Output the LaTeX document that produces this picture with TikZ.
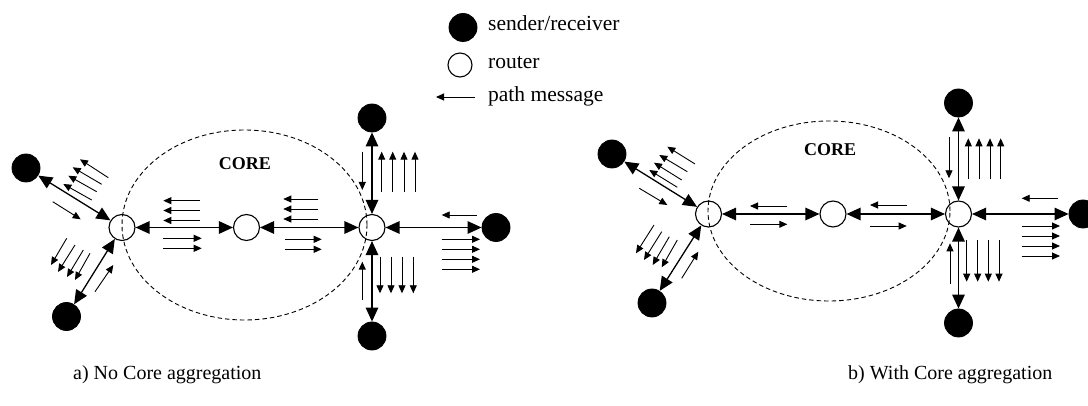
\documentclass[tikz,border=0pt]{standalone}
\usepackage{fontspec}
\setmainfont{Liberation Serif}
\usetikzlibrary{arrows.meta}
\begin{document}
\begin{tikzpicture}[x=1pt,y=-1pt,
  sender/.style={circle,fill=black,draw=black,line width=0.8pt,minimum size=28pt,inner sep=0pt},
  router/.style={circle,draw=black,line width=1.1pt,minimum size=26pt,inner sep=0pt},
  link/.style={line width=1.3pt,{Triangle[length=14pt,width=12.5pt]}-{Triangle[length=14pt,width=12.5pt]}},
  pmsg/.style={line width=0.9pt,-{Triangle[length=8pt,width=7pt]}},
  core/.style={draw=black,line width=0.9pt,dash pattern=on 4.5pt off 3pt},
  txt/.style={font=\fontsize{20}{24}\selectfont,inner sep=0pt,anchor=base west},
  legtxt/.style={txt,font=\fontsize{21.5}{25}\selectfont},
  corelabel/.style={font=\fontsize{18}{21}\selectfont\bfseries,inner sep=0pt}
]
\clip (0,0) rectangle (1088,406);

% ---------- legend ----------
\node[sender] (legS) at (463,27.5) {};
\node[legtxt] (legSt) at (488,31) {sender/receiver};
\node[router,minimum size=24pt] (legR) at (460,65) {};
\node[legtxt] (legRt) at (488,69) {router};
\coordinate (legA0) at (475,97);
\coordinate (legA1) at (436,97);
\draw[pmsg] (legA0) -- (legA1);
\node[legtxt] (legPt) at (488,102) {path message};

% ---------- a) no core aggregation ----------
\draw[core] (244.5,225) ellipse [x radius=122.5pt, y radius=95pt];
\node[corelabel] (coreA) at (245,163.5) {CORE};

\node[router] (L1) at (122,227.5) {};
\node[router] (M1) at (246.5,227.5) {};
\node[router] (R1) at (372,227.5) {};
\node[sender] (S1a) at (26,168) {};
\node[sender] (S1b) at (66.5,316.5) {};
\node[sender] (T1) at (372,118) {};
\node[sender] (E1) at (496,227.5) {};
\node[sender] (B1) at (372,336) {};

\draw[link] (S1a) -- (L1);
\draw[link] (S1b) -- (L1);
\draw[link] (L1) -- (M1);
\draw[link] (M1) -- (R1);
\draw[link] (T1) -- (R1);
\draw[link] (E1) -- (R1);
\draw[link] (B1) -- (R1);

% path messages, upper-left sender
\draw[pmsg] (108.3,177.7) -- (80,159.3);
\draw[pmsg] (101.7,184.3) -- (72.7,167.3);
\draw[pmsg] (96.7,191.7) -- (68.3,175.7);
\draw[pmsg] (91.7,200) -- (63.3,184);
\draw[pmsg] (52.7,201.7) -- (80.7,219.3);
% lower-left sender
\draw[pmsg] (66.7,238.3) -- (51,265);
\draw[pmsg] (75,245) -- (58,272);
\draw[pmsg] (83.3,250) -- (67,277);
\draw[pmsg] (90,253.3) -- (75,280);
\draw[pmsg] (95,291.7) -- (113.3,265);
% core links
\foreach \y in {200.7,210.5,220.5} \draw[pmsg] (200,\y) -- (163.3,\y);
\foreach \y in {238.3,248.3} \draw[pmsg] (163.3,\y) -- (201.7,\y);
\foreach \y in {199,209,219} \draw[pmsg] (318.3,\y) -- (283.3,\y);
\foreach \y in {239.3,249.3} \draw[pmsg] (285,\y) -- (321.7,\y);
% top sender
\draw[pmsg] (362.3,151.7) -- (362.3,190);
\foreach \x in {381.7,392.7,404,415} \draw[pmsg] (\x,191.7) -- (\x,151.7);
% right sender
\draw[pmsg] (476.7,215) -- (441.7,215);
\foreach \y in {239.3,249.3,259.3,269.3} \draw[pmsg] (441.7,\y) -- (480,\y);
% bottom sender
\draw[pmsg] (362.3,300) -- (362.3,261.7);
\foreach \x in {380,391,402,413.3} \draw[pmsg] (\x,256.7) -- (\x,293.3);

\node[txt] (capA) at (73,379) {a) No Core aggregation};

% ---------- b) with core aggregation ----------
\draw[core] (829,211) ellipse [x radius=121pt, y radius=90pt];
\node[corelabel] (coreB) at (830,150) {CORE};

\node[router] (L2) at (708.5,214) {};
\node[router] (M2) at (833,214) {};
\node[router] (R2) at (958.5,214) {};
\node[sender] (S2a) at (612,154) {};
\node[sender] (S2b) at (652,303) {};
\node[sender] (T2) at (958.5,103) {};
\node[sender] (E2) at (1083,214) {};
\node[sender] (B2) at (958.5,323) {};

\draw[link] (S2a) -- (L2);
\draw[link] (S2b) -- (L2);
\draw[link] (L2) -- (M2);
\draw[link] (M2) -- (R2);
\draw[link] (T2) -- (R2);
\draw[link] (E2) -- (R2);
\draw[link] (B2) -- (R2);

% upper-left sender
\draw[pmsg] (695,164) -- (667.3,146.7);
\draw[pmsg] (687.3,171.7) -- (659.3,155);
\draw[pmsg] (681.7,180) -- (654,162.7);
\draw[pmsg] (677.3,187.3) -- (649.3,170);
\draw[pmsg] (639.3,188.3) -- (667.3,205);
% lower-left sender
\draw[pmsg] (654,225) -- (636,253.3);
\draw[pmsg] (661.7,231.7) -- (644,260);
\draw[pmsg] (669.3,236.7) -- (652.7,265);
\draw[pmsg] (677.3,240) -- (661.7,267.3);
\draw[pmsg] (681.7,278.3) -- (698.3,251.7);
% core links
\draw[pmsg] (787.3,206) -- (750,206);
\draw[pmsg] (750,224.3) -- (787.3,224.3);
\draw[pmsg] (906.7,205) -- (870,205);
\draw[pmsg] (870,226) -- (906.7,226);
% top sender
\draw[pmsg] (949,137.3) -- (949,178.3);
\foreach \x in {968.3,979,990,1000.7} \draw[pmsg] (\x,179.3) -- (\x,138.3);
% right sender
\draw[pmsg] (1058.3,198.3) -- (1021.7,198.3);
\foreach \y in {226,236,246,256} \draw[pmsg] (1021.7,\y) -- (1060,\y);
% bottom sender
\draw[pmsg] (950,284) -- (950,243.3);
\foreach \x in {966.7,977.7,988.3,999} \draw[pmsg] (\x,240) -- (\x,281.7);

\node[txt] (capB) at (848,379) {b) With Core aggregation};
\end{tikzpicture}
\end{document}
